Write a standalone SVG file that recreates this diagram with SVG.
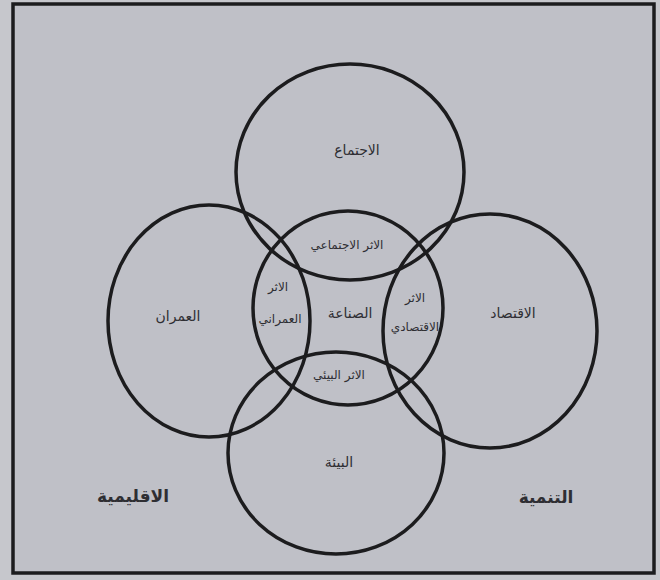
<svg xmlns="http://www.w3.org/2000/svg" width="660" height="580" viewBox="0 0 660 580">
<style>
.c{fill:none;stroke:#1c1c1e;stroke-width:3.5}
.t{font-family:"DejaVu Sans",sans-serif;fill:#2e2e33;text-anchor:middle;dominant-baseline:central}
.m{font-size:14px}
.s{font-size:12px}
.l{font-size:17px;font-weight:bold}
</style>
<rect x="0" y="0" width="660" height="580" fill="#c6c7cc"/>
<rect x="13" y="4" width="641" height="569" fill="#bfc0c7" stroke="#1c1c1e" stroke-width="3.5"/>
<g id="node-ijtima">
<ellipse class="c" cx="350" cy="172" rx="114" ry="108"/>
<text class="t m" x="357" y="150">الاجتماع</text>
</g>
<g id="node-umran">
<ellipse class="c" cx="209" cy="321" rx="101" ry="116"/>
<text class="t m" x="178" y="316">العمران</text>
</g>
<g id="node-iqtisad">
<ellipse class="c" cx="490" cy="331" rx="107" ry="117"/>
<text class="t m" x="513" y="313">الاقتصاد</text>
</g>
<g id="node-biaa">
<ellipse class="c" cx="336" cy="453" rx="108" ry="101"/>
<text class="t m" x="339" y="462">البيئة</text>
</g>
<g id="node-sinaa">
<ellipse class="c" cx="348" cy="308" rx="95" ry="97"/>
<text class="t m" x="350" y="313">الصناعة</text>
</g>
<g id="label-athar-ijtimai">
<text class="t s" x="347" y="245">الاثر الاجتماعي</text>
</g>
<g id="label-athar-umrani">
<text class="t s" x="278" y="287">الاثر</text>
<text class="t s" x="280" y="319">العمراني</text>
</g>
<g id="label-athar-iqtisadi">
<text class="t s" x="415" y="298">الاثر</text>
<text class="t s" x="415" y="327">الاقتصادي</text>
</g>
<g id="label-athar-biai">
<text class="t s" x="339" y="375">الاثر البيئي</text>
</g>
<g id="label-iqlimiya">
<text class="t l" x="133" y="496">الاقليمية</text>
</g>
<g id="label-tanmiya">
<text class="t l" x="546" y="497">التنمية</text>
</g>
</svg>
